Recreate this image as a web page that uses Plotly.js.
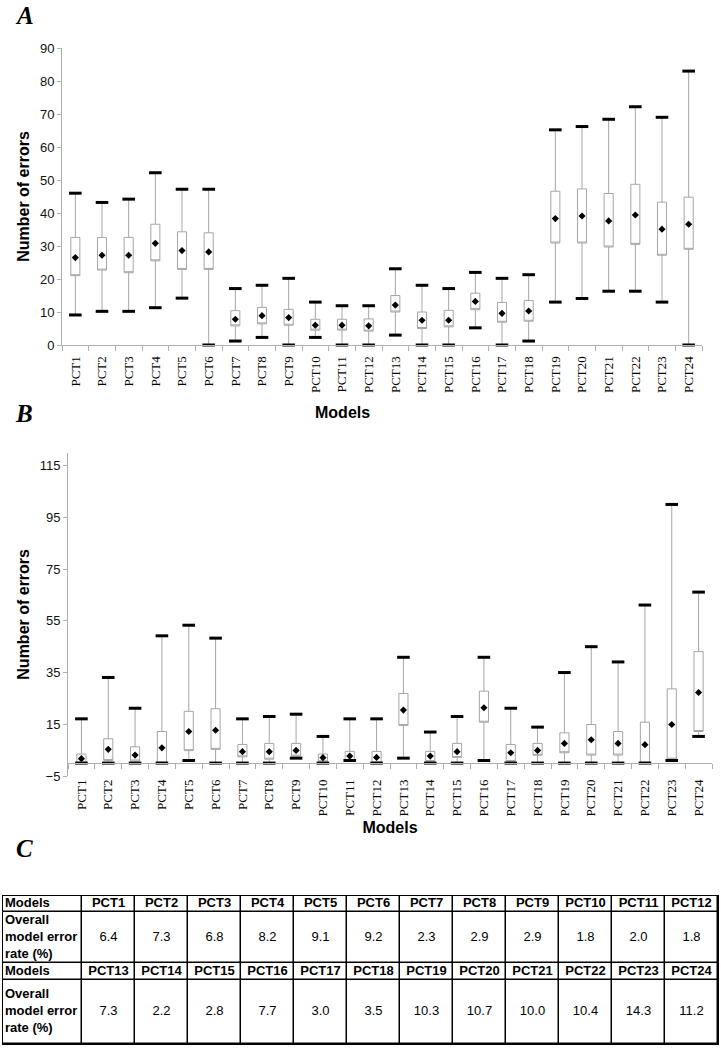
<!DOCTYPE html>
<html>
<head>
<meta charset="utf-8">
<script src="https://cdn.plot.ly/plotly-3.0.1.min.js"></script>
<style>
  html, body { margin: 0; padding: 0; background: #ffffff; }
  #chart { width: 721px; height: 1050px; }
</style>
</head>
<body>
<div id="chart"></div>
<script>
// ---------- data ----------
const models = ["PCT1","PCT2","PCT3","PCT4","PCT5","PCT6","PCT7","PCT8","PCT9","PCT10","PCT11","PCT12",
                "PCT13","PCT14","PCT15","PCT16","PCT17","PCT18","PCT19","PCT20","PCT21","PCT22","PCT23","PCT24"];

// Panel A
const aMax  = [46, 43.2, 44.2, 52.2, 47.2, 47.2, 17.1, 18.1, 20.2, 13, 11.9, 11.9, 23.1, 18.1, 17.1, 22, 20.2, 21.3, 65.2, 66.2, 68.4, 72.2, 69, 83];
const aQ3   = [32.6, 32.6, 32.6, 36.6, 34.3, 34.0, 10.4, 11.4, 10.8, 7.8, 7.8, 7.9, 15.0, 10.0, 10.5, 15.7, 12.9, 13.5, 46.6, 47.3, 45.9, 48.7, 43.3, 44.8];
const aQ1   = [21, 22.7, 21.9, 25.5, 22.9, 22.9, 5.8, 6.4, 6.0, 4.5, 4.5, 4.2, 10.0, 5.0, 5.5, 10.7, 6.9, 7.2, 30.9, 30.9, 29.7, 30.5, 27.2, 29.0];
const aMin  = [9.1, 10.2, 10.2, 11.3, 14.2, 0, 1.2, 2.3, 0, 2.3, 0, 0, 3.0, 0, 0, 5.2, 0, 1.2, 13.0, 14.1, 16.3, 16.3, 13.0, 0];
const aMean = [26.5, 27.2, 27.2, 30.8, 28.6, 28.2, 7.8, 8.9, 8.3, 6.0, 6.0, 5.8, 12.1, 7.5, 7.5, 13.2, 9.6, 10.3, 38.3, 39.1, 37.6, 39.4, 35.1, 36.6];

// Panel B
const bMax  = [17.1, 33.1, 21.2, 49.2, 53.3, 48.3, 17.1, 18.0, 18.9, 10.3, 17.1, 17.1, 40.9, 12.0, 18.0, 40.9, 21.2, 13.9, 35.0, 45.0, 39.1, 61.1, 100, 66.1];
const bQ3   = [3.5, 9.4, 6.3, 12.2, 20.0, 21.0, 7.2, 7.6, 7.6, 3.5, 4.5, 4.5, 26.9, 4.5, 7.6, 27.8, 7.2, 7.6, 11.7, 14.9, 12.2, 15.8, 28.7, 43.1];
const bQ1   = [0, 1.0, 0.8, 0, 4.8, 5.3, 2.4, 1.5, 2.7, 0.5, 1.0, 0.1, 14.5, 0.6, 2.2, 15.8, 0.6, 3.0, 4.0, 3.1, 3.1, 0, 1.5, 12.2];
const bMin  = [0, 0, 0, 0, 1.0, 0, 0, 0, 1.9, 0, 1.0, 0, 1.9, 0, 0, 1.0, 0, 0, 0, 0, 0, 0, 1.0, 10.3];
const bMean = [1.7, 5.3, 3.1, 5.9, 12.2, 12.7, 4.4, 4.4, 4.9, 2.1, 2.7, 2.2, 20.5, 2.7, 4.4, 21.4, 4.0, 4.9, 7.6, 9.0, 7.6, 7.1, 14.9, 27.3];

// Panel C table
const errorRate = [6.4, 7.3, 6.8, 8.2, 9.1, 9.2, 2.3, 2.9, 2.9, 1.8, 2.0, 1.8, 7.3, 2.2, 2.8, 7.7, 3.0, 3.5, 10.3, 10.7, 10.0, 10.4, 14.3, 11.2];
const rowHeaderModels = "Models";
const rowHeaderRate = "Overall<br>model error<br>rate (%)";

// ---------- layout helpers ----------
const W = 721, H = 1050;
const px = v => v / W;
const py = v => 1 - v / H;

const boxLine = '#a6a6a6';
const axisLine = '#b0b0b0';

function panelTraces(xa, ya, q1, q3, mn, mx, mean, meanXa) {
  return [
    {
      type: 'box', x: models, q1: q1, median: q1, q3: q3,
      lowerfence: mn, upperfence: mx,
      xaxis: xa, yaxis: ya, width: 0.34, whiskerwidth: 0,
      line: { color: boxLine, width: 1 }, fillcolor: 'white',
      boxpoints: false, hoverinfo: 'skip', showlegend: false
    },
    {
      type: 'scatter', mode: 'markers', x: models, y: mx, xaxis: xa, yaxis: ya,
      marker: { symbol: 'line-ew', size: 9, line: { width: 3, color: '#000' } },
      cliponaxis: false, hoverinfo: 'skip', showlegend: false
    },
    {
      type: 'scatter', mode: 'markers', x: models, y: mn, xaxis: xa, yaxis: ya,
      marker: { symbol: 'line-ew', size: 9, line: { width: 3, color: '#000' } },
      cliponaxis: false, hoverinfo: 'skip', showlegend: false
    },
    {
      type: 'scatter', mode: 'markers', x: models, y: mean, xaxis: meanXa, yaxis: ya,
      marker: { symbol: 'diamond', size: 5.5, color: '#000' },
      cliponaxis: false, hoverinfo: 'skip', showlegend: false
    }
  ];
}

const data = [].concat(
  panelTraces('x', 'y', aQ1, aQ3, aMin, aMax, aMean, 'x'),
  panelTraces('x2', 'y2', bQ1, bQ3, bMin, bMax, bMean, 'x3')
);

// ---------- table (panel C) drawn as a grid of cells ----------
const colW = [79].concat(new Array(12).fill(53));   // style: column widths
const rowH = [16, 51, 17, 64];                        // style: row heights
const colEdges = colW.reduce((a, w) => a.concat(a[a.length - 1] + w), [0]);
const rowEdges = rowH.reduce((a, h) => a.concat(a[a.length - 1] + h), [0]);
const totW = colEdges[colEdges.length - 1], totH = rowEdges[rowEdges.length - 1];
const colMid = colW.map((w, i) => colEdges[i] + w / 2);
const rowMid = rowH.map((h, i) => rowEdges[i] + h / 2);

// border underlay (black) then white cells with gaps
data.push({
  type: 'heatmap', x: [-1, totW + 1], y: [-1, totH + 1], z: [[0]],
  colorscale: [[0, '#000'], [1, '#000']], showscale: false,
  xaxis: 'x4', yaxis: 'y4', hoverinfo: 'skip'
});
data.push({
  type: 'heatmap', x: colEdges, y: rowEdges,
  z: rowH.map(() => colW.map(() => 0)), zmin: 0, zmax: 1,
  colorscale: [[0, '#fff'], [1, '#fff']], showscale: false,
  xgap: 1.5, ygap: 1.5,
  xaxis: 'x4', yaxis: 'y4', hoverinfo: 'skip'
});

const tFont = { family: 'Liberation Sans, Arial, sans-serif', size: 13, color: '#000' };
const hx = [], hy = [], ht = [];   // header texts (centered)
const vx = [], vy = [], vt = [];   // values (centered)
const lx = [], ly = [], lt = [];   // row labels (left)
for (let blk = 0; blk < 2; blk++) {
  const rHead = blk * 2, rVal = blk * 2 + 1;
  lx.push(2); ly.push(rowMid[rHead]); lt.push('<b>' + rowHeaderModels + '</b>');
  lx.push(2); ly.push(rowMid[rVal]);  lt.push('<b>' + rowHeaderRate + '</b>');
  for (let c = 0; c < 12; c++) {
    const k = blk * 12 + c;
    hx.push(colMid[c + 1]); hy.push(rowMid[rHead]); ht.push('<b>' + models[k] + '</b>');
    vx.push(colMid[c + 1]); vy.push(rowMid[rVal]);  vt.push(errorRate[k].toFixed(1));
  }
}
data.push({ type: 'scatter', mode: 'text', x: hx, y: hy, text: ht, textposition: 'middle center',
  textfont: tFont, xaxis: 'x4', yaxis: 'y4', hoverinfo: 'skip', cliponaxis: false });
data.push({ type: 'scatter', mode: 'text', x: vx, y: vy, text: vt, textposition: 'middle center',
  textfont: tFont, xaxis: 'x4', yaxis: 'y4', hoverinfo: 'skip', cliponaxis: false });
data.push({ type: 'scatter', mode: 'text', x: lx, y: ly, text: lt, textposition: 'middle right',
  textfont: tFont, xaxis: 'x4', yaxis: 'y4', hoverinfo: 'skip', cliponaxis: false });

// Panel B zero-line position
const bRange = [-5, 120];
const bDom = [py(776), py(452.7)];
const zeroPos = bDom[0] + (0 - bRange[0]) / (bRange[1] - bRange[0]) * (bDom[1] - bDom[0]);

const tickFontX = { family: 'Liberation Serif, Times New Roman, serif', size: 13, color: '#000' };
const tickFontY = { family: 'Liberation Sans, Arial, sans-serif', size: 13, color: '#111' };
const titleFont = { family: 'Liberation Sans, Arial, sans-serif', size: 16, color: '#000' };
const letterFont = { family: 'Liberation Serif, Times New Roman, serif', size: 25, color: '#000' };

const layout = {
  width: W, height: H,
  margin: { l: 0, r: 0, t: 0, b: 0 },
  paper_bgcolor: 'white', plot_bgcolor: 'white',
  showlegend: false,
  xaxis: {
    domain: [px(62), px(702)], anchor: 'y', type: 'category',
    categoryorder: 'array', categoryarray: models, range: [-0.5, 23.5],
    showline: true, linecolor: axisLine, linewidth: 1,
    ticks: 'outside', tickson: 'boundaries', ticklen: 5, tickcolor: axisLine,
    tickangle: -90, tickfont: tickFontX, ticklabelstandoff: 5,
    showgrid: false, zeroline: false, automargin: false, fixedrange: true
  },
  yaxis: {
    domain: [py(345), py(48)], anchor: 'x', range: [0, 90], dtick: 10, tick0: 0,
    showline: true, linecolor: axisLine, linewidth: 1,
    ticks: 'outside', ticklen: 4, tickcolor: axisLine, tickfont: tickFontY,
    showgrid: false, zeroline: false, automargin: false, fixedrange: true,
    title: { text: '<b>Number of errors</b>', font: titleFont, standoff: 6 }
  },
  xaxis2: {
    domain: [px(68), px(712)], anchor: 'y2', type: 'category',
    categoryorder: 'array', categoryarray: models, range: [-0.5, 23.5],
    showline: false, ticks: '', tickangle: -90, tickfont: tickFontX,
    showgrid: false, zeroline: false, automargin: false, fixedrange: true,
    title: { text: '<b>Models</b>', font: titleFont, standoff: 6 }
  },
  xaxis3: {
    overlaying: 'x2', anchor: 'free', position: zeroPos, type: 'category',
    categoryorder: 'array', categoryarray: models, range: [-0.5, 23.5],
    showline: true, linecolor: axisLine, linewidth: 1,
    ticks: 'outside', tickson: 'boundaries', ticklen: 5, tickcolor: axisLine,
    showticklabels: false, showgrid: false, zeroline: false, automargin: false, fixedrange: true
  },
  yaxis2: {
    domain: bDom, anchor: 'x2', range: bRange, tick0: -5, dtick: 20,
    showline: true, linecolor: axisLine, linewidth: 1,
    ticks: 'outside', ticklen: 4, tickcolor: axisLine, tickfont: tickFontY,
    showgrid: false, zeroline: false, automargin: false, fixedrange: true,
    title: { text: '<b>Number of errors</b>', font: titleFont, standoff: 6 }
  },
  xaxis4: {
    domain: [px(2), px(719)], anchor: 'y4', range: [-1, totW + 1],
    visible: false, fixedrange: true
  },
  yaxis4: {
    domain: [py(1045), py(895)], anchor: 'x4', range: [totH + 1, -1],
    visible: false, fixedrange: true
  },
  annotations: [
    { text: '<b><i>A</i></b>', xref: 'paper', yref: 'paper', x: px(24), y: 1,
      xanchor: 'center', yanchor: 'top', showarrow: false, font: letterFont },
    { text: '<b><i>B</i></b>', xref: 'paper', yref: 'paper', x: px(24), y: py(413),
      xanchor: 'center', yanchor: 'middle', showarrow: false, font: letterFont },
    { text: '<b><i>C</i></b>', xref: 'paper', yref: 'paper', x: px(24), y: py(848),
      xanchor: 'center', yanchor: 'middle', showarrow: false, font: letterFont },
    { text: '<b>Models</b>', xref: 'paper', yref: 'paper', x: px(342), y: py(412),
      xanchor: 'center', yanchor: 'middle', showarrow: false, font: titleFont }
  ]
};

Plotly.newPlot('chart', data, layout, { staticPlot: true, displayModeBar: false });
</script>
</body>
</html>
